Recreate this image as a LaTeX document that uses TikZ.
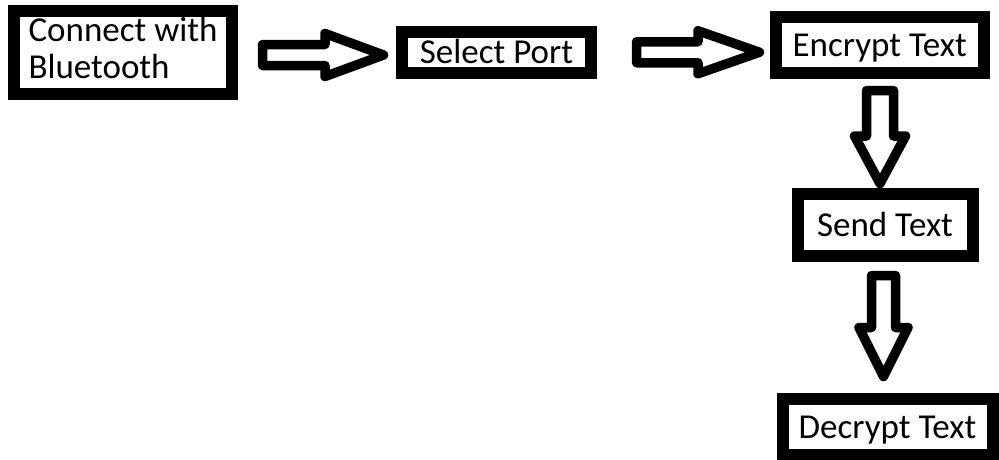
\documentclass[tikz,border=0pt]{standalone}
\usepackage{fontspec}
\setmainfont{Carlito}
\usetikzlibrary{calc}

\tikzset{
  box/.style={draw=black, line width=12pt, fill=white, inner sep=0pt,
    font=\fontsize{35}{37}\selectfont, text height=23pt, text depth=0pt},
  arrowline/.style={draw=black, line width=9.5pt, line join=round, fill=white},
  % hollow block arrow along +x: total length, shaft half width, head half width, head length
  pics/blockarrow/.style n args={4}{code={
    \draw[arrowline] (0,-#2) -- ({#1-#4},-#2) -- ({#1-#4},-#3) -- (#1,0)
      -- ({#1-#4},#3) -- ({#1-#4},#2) -- (0,#2) -- cycle;
  }}
}

\begin{document}
\begin{tikzpicture}[x=1pt,y=-1pt]
\useasboundingbox (0,0) rectangle (999,459);
\fill[white] (0,0) rectangle (999,459);

% process steps
\node[box, minimum width=218pt, minimum height=83pt, align=left,
      text height=60pt, text depth=9pt]
  (connect) at (123,52.5) {Connect with\\Bluetooth};
\node[box, minimum width=189pt, minimum height=40.5pt] (port) at (496.5,52.25) {Select Port};
\node[box, minimum width=208.5pt, minimum height=55.5pt] (encrypt) at (879.75,44.75) {Encrypt Text};
\node[box, minimum width=175pt, minimum height=62pt] (send) at (885,225) {Send Text};
\node[box, minimum width=210pt, minimum height=55.5pt] (decrypt) at (887.5,426.75) {Decrypt Text};

% hollow arrows between the steps
\pic at ($(connect.east)+(24.5,2.5)$) {blockarrow={121}{10.5}{21.5}{58.5}};
\pic at ($(port.east)+(39.5,0)$) {blockarrow={123}{10.5}{21.5}{61.5}};
\pic[rotate=-90] at ($(encrypt.south)+(0.25,12)$) {blockarrow={93}{13.5}{25.5}{47.5}};
\pic[rotate=-90] at ($(send.south)+(-1.5,13.5)$) {blockarrow={101}{12}{24.5}{49}};
\end{tikzpicture}
\end{document}
